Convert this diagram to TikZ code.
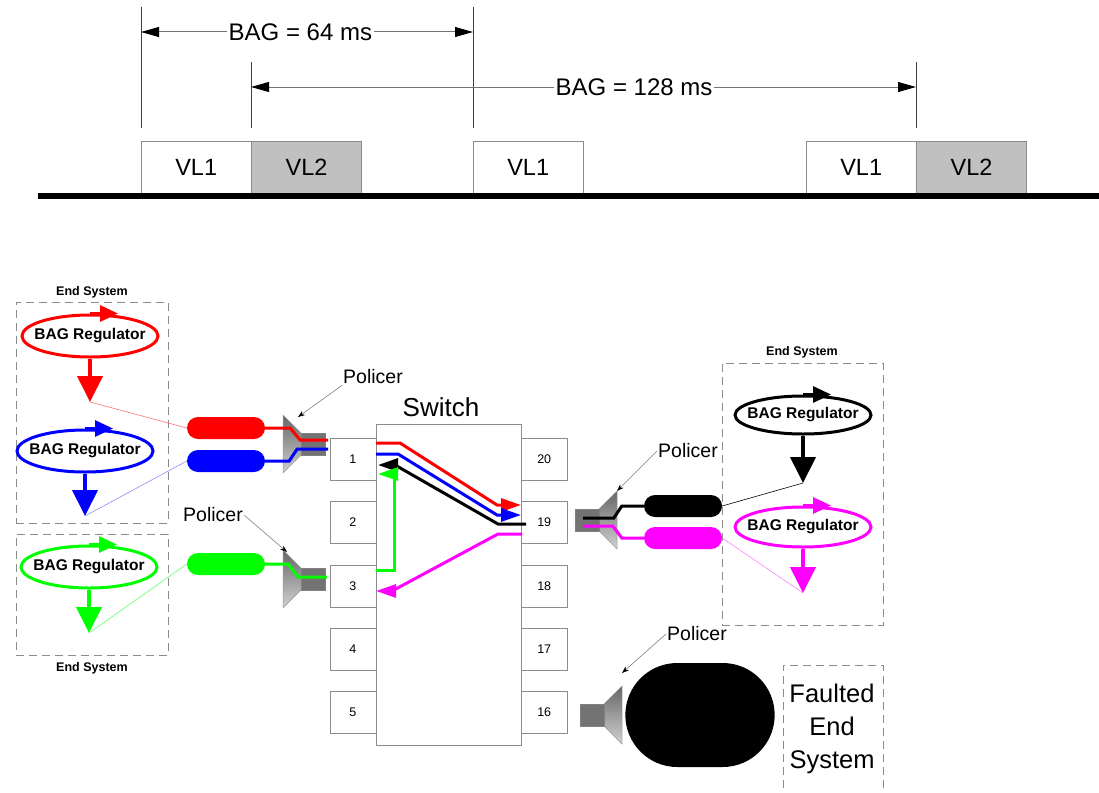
\documentclass[tikz,border=0pt]{standalone}
\usepackage{fontspec}
\setmainfont{Liberation Sans}
\usetikzlibrary{positioning}
\usetikzlibrary{shapes.geometric, shapes.misc}
\usetikzlibrary{arrows.meta}
\usepackage{xcolor}
\definecolor{vlgray}{HTML}{C0C0C0}
\definecolor{mag}{HTML}{FF00FF}
\definecolor{grn}{HTML}{00FF00}

\begin{document}
\begin{tikzpicture}[x=1pt, y=-1pt,
		vl/.style = {rectangle, draw=black!45, minimum width=110pt, minimum height=53pt, inner sep=0pt, font=\fontsize{23.5}{27}\selectfont},
		dim/.style = {draw=black!55, line width=1pt, {Triangle[length=18pt,width=10pt,color=black]}-{Triangle[length=18pt,width=10pt,color=black]}},
		tick/.style = {draw=black!75, line width=0.8pt},
		esbox/.style = {rectangle, draw=black!45, dash pattern=on 8pt off 5pt, line width=0.8pt, inner sep=0pt},
		eslabel/.style = {font=\bfseries\fontsize{12.5}{15}\selectfont},
		reg/.style = {ellipse, line width=3pt, minimum width=136pt, minimum height=42pt, inner xsep=-8pt, inner ysep=0pt, font=\bfseries\fontsize{15.5}{18}\selectfont},
		spin/.style = {line width=3pt, -{Triangle[length=18pt,width=16pt]}},
		drop/.style = {line width=4pt, -{Triangle[length=26pt,width=25pt]}},
		pill/.style = {rounded rectangle, minimum width=78pt, minimum height=22pt, inner sep=0pt},
		port/.style = {rectangle, draw=black!45, fill=white, minimum width=46pt, minimum height=42pt, inner sep=0pt, font=\fontsize{12.5}{15}\selectfont},
		flow/.style = {line width=3pt},
		head/.style = {-{Triangle[length=20pt,width=13pt]}},
		hint/.style = {draw=black!50, line width=0.6pt, -{Stealth[length=7pt,width=5pt,color=black]}},
		lbl/.style = {font=\fontsize{19.5}{23}\selectfont, inner sep=1pt},
		policer/.pic = {
			\draw[draw=black!40, line width=0.5pt, top color=black!60, bottom color=black!18] (0,-29) -- (18,-11) -- (18,11) -- (0,29) -- cycle;
			\draw[draw=black!50, line width=0.5pt, fill=black!55] (18,-11) rectangle (42,11);
		}
		]
		\useasboundingbox (0,0) rectangle (1099,792);
		
		%Timeline
		\node[vl, anchor=north west]	(v11)	at	(141,141)	{VL1};
		\node[vl, fill=vlgray, right=0pt of v11]	(v12)	{VL2};
		\node[vl, anchor=north west]	(v21)	at	(473,141)	{VL1};
		\node[vl, anchor=north west]	(v31)	at	(806,141)	{VL1};
		\node[vl, fill=vlgray, right=0pt of v31]	(v32)	{VL2};
		\coordinate	(bl)	at	(38,196);
		\coordinate	(br)	at	(1099,196);
		\draw[line width=6pt]	(bl)	--	(br);
		
		\coordinate	(t1a)	at	(141,7);	\coordinate	(t1b)	at	(141,128);
		\coordinate	(t2a)	at	(473,7);	\coordinate	(t2b)	at	(473,128);
		\coordinate	(t3a)	at	(251,62);	\coordinate	(t3b)	at	(251,128);
		\coordinate	(t4a)	at	(916,62);	\coordinate	(t4b)	at	(916,128);
		\foreach \t in {1,2,3,4}
			\draw[tick]	(t\t a)	--	(t\t b);
		
		\coordinate	(d1a)	at	(141,32);	\coordinate	(d1b)	at	(473,32);
		\coordinate	(d2a)	at	(251,87);	\coordinate	(d2b)	at	(916,87);
		\draw[dim]	(d1a)	--	node[pos=0.48, fill=white, inner sep=2pt, font=\fontsize{24}{28}\selectfont]	{BAG = 64 ms}	(d1b);
		\draw[dim]	(d2a)	--	node[pos=0.576, fill=white, inner sep=2pt, font=\fontsize{24}{28}\selectfont]	{BAG = 128 ms}	(d2b);
		
		%End systems
		\node[esbox, minimum width=152pt, minimum height=221pt, anchor=north west]	(es1)	at	(16,302)	{};
		\node[esbox, minimum width=152pt, minimum height=121pt, anchor=north west]	(es2)	at	(16,534)	{};
		\node[esbox, minimum width=161pt, minimum height=262pt, anchor=north west]	(es3)	at	(722,363)	{};
		\node[esbox, minimum width=100pt, minimum height=140pt, anchor=north west]	(es4)	at	(783,665)	{};
		\node[eslabel]	(esl1)	at	(92,292)	{End System};
		\node[eslabel]	(esl2)	at	(92,668)	{End System};
		\node[eslabel]	(esl3)	at	(802,352)	{End System};
		\node[align=center, font=\fontsize{25.5}{33}\selectfont]	(fes)	at	(832,729)	{Faulted\\End\\System};
		
		\node[reg, draw=red]	(er)	at	(90,336)	{BAG Regulator};
		\node[reg, draw=blue]	(eb)	at	(85,451)	{BAG Regulator};
		\node[reg, draw=grn]	(eg)	at	(89,567)	{BAG Regulator};
		\node[reg, draw=black, minimum height=38pt]	(ek)	at	(803,415)	{BAG Regulator};
		\node[reg, draw=mag, minimum height=40pt]	(em)	at	(803,527)	{BAG Regulator};
		
		\draw[red, spin]	(er.north)	--	++(28,0);
		\draw[blue, spin]	(eb.north)	--	++(28,0);
		\draw[grn, spin]	(eg.north)	--	++(28,0);
		\draw[black, spin]	(ek.north)	--	++(28,0);
		\draw[mag, spin]	(em.north)	--	++(28,0);
		
		\coordinate	(rt)	at	(90,402);
		\coordinate	(bt)	at	(85,516);
		\coordinate	(gt)	at	(89,633);
		\coordinate	(kt)	at	(803,483);
		\coordinate	(mt)	at	(803,593);
		\draw[red, drop]	(er.south)	--	(rt);
		\draw[blue, drop]	(eb.south)	--	(bt);
		\draw[grn, drop]	(eg.south)	--	(gt);
		\draw[black, drop]	(ek.south)	--	(kt);
		\draw[mag, drop]	(em.south)	--	(mt);
		
		%Pills
		\node[pill, fill=red]	(rp)	at	(226,428)	{};
		\node[pill, fill=blue]	(bp)	at	(226,461)	{};
		\node[pill, fill=grn]	(gp)	at	(226,564)	{};
		\node[pill, fill=black]	(kp)	at	(683,506)	{};
		\node[pill, fill=mag]	(mp)	at	(683,538)	{};
		\node[rounded rectangle, fill=black, minimum width=156pt, minimum height=104pt]	(fp)	at	(700,715)	{};
		
		\draw[red!55, line width=0.6pt]	(rt)	--	(rp.west);
		\draw[blue!45, line width=0.6pt]	(bt)	--	(bp.west);
		\draw[grn!60, line width=0.6pt]	(gt)	--	(gp.west);
		\draw[black, line width=0.6pt]	(kt)	--	(kp.east);
		\draw[mag!50, line width=0.6pt]	(mt)	--	(mp.east);
		
		%Switch
		\node[draw=black!45, minimum width=145pt, minimum height=321pt, anchor=north west]	(sw)	at	(376,424)	{};
		\node[font=\fontsize{26}{30}\selectfont]	(swl)	at	(441,407)	{Switch};
		\foreach \n/\y in {1/438,2/501,3/565,4/628,5/691}
			\node[port, anchor=north east]	(p\n)	at	(376,\y)	{\n};
		\foreach \n/\y in {20/438,19/501,18/565,17/628,16/691}
			\node[port, anchor=north west]	(p\n)	at	(521,\y)	{\n};
		
		%Policers
		\pic	at	(283,444)	{policer};
		\pic	at	(283,579)	{policer};
		\pic[xscale=-1]	at	(617,520)	{policer};
		\pic[xscale=-1]	at	(622,715)	{policer};
		
		\coordinate	(ra)	at	(328,440);
		\coordinate	(ba)	at	(328,449);
		\coordinate	(ga)	at	(327,577);
		\coordinate	(ka)	at	(583,518);
		\coordinate	(ma)	at	(583,526);
		\draw[red, flow]	(rp.east)	--	++(25,0)	--	++(10,12)	--	(ra);
		\draw[blue, flow]	(bp.east)	--	++(24,0)	--	++(8,-12)	--	(ba);
		\draw[grn, flow]	(gp.east)	--	++(23,0)	--	++(10,13)	--	(ga);
		\draw[black, flow]	(kp.west)	--	++(-22,0)	--	++(-8,12)	--	(ka);
		\draw[mag, flow]	(mp.west)	--	++(-22,0)	--	++(-9,-12)	--	(ma);
		
		\node[lbl]	(pl1)	at	(373,377)	{Policer};
		\node[lbl]	(pl2)	at	(213,515)	{Policer};
		\node[lbl]	(pl3)	at	(688,451)	{Policer};
		\node[lbl]	(pl4)	at	(697,634)	{Policer};
		\coordinate	(pc1)	at	(298,417);
		\coordinate	(pc2)	at	(287,552);
		\coordinate	(pc3)	at	(617,491);
		\coordinate	(pc4)	at	(622,673);
		\draw[hint]	(pl1.south west)	--	(pc1);
		\draw[hint]	(pl2.east)	--	(pc2);
		\draw[hint]	(pl3.west)	--	(pc3);
		\draw[hint]	(pl4.west)	--	(pc4);
		
		%Flows through the switch
		\coordinate	(sr)	at	(376,443);	\coordinate	(sre)	at	(521,505);
		\coordinate	(sb)	at	(376,454);	\coordinate	(sbe)	at	(521,515);
		\coordinate	(sk)	at	(526,524);	\coordinate	(ske)	at	(378,465);
		\coordinate	(sg)	at	(376,570);	\coordinate	(sge)	at	(378,474);
		\coordinate	(sm)	at	(522,534);	\coordinate	(sme)	at	(376,591);
		\draw[red, flow, head]	(sr)	--	++(24,0)	--	(497,505)	--	(sre);
		\draw[blue, flow, head]	(sb)	--	++(22,0)	--	(497,515)	--	(sbe);
		\draw[black, flow, head]	(sk)	--	(498,524)	--	(395,465)	--	(ske);
		\draw[grn, flow, head]	(sg)	--	(394,570)	--	(394,474)	--	(sge);
		\draw[mag, flow, head]	(sm)	--	(498,534)	--	(392,591)	--	(sme);
	\end{tikzpicture}
\end{document}
